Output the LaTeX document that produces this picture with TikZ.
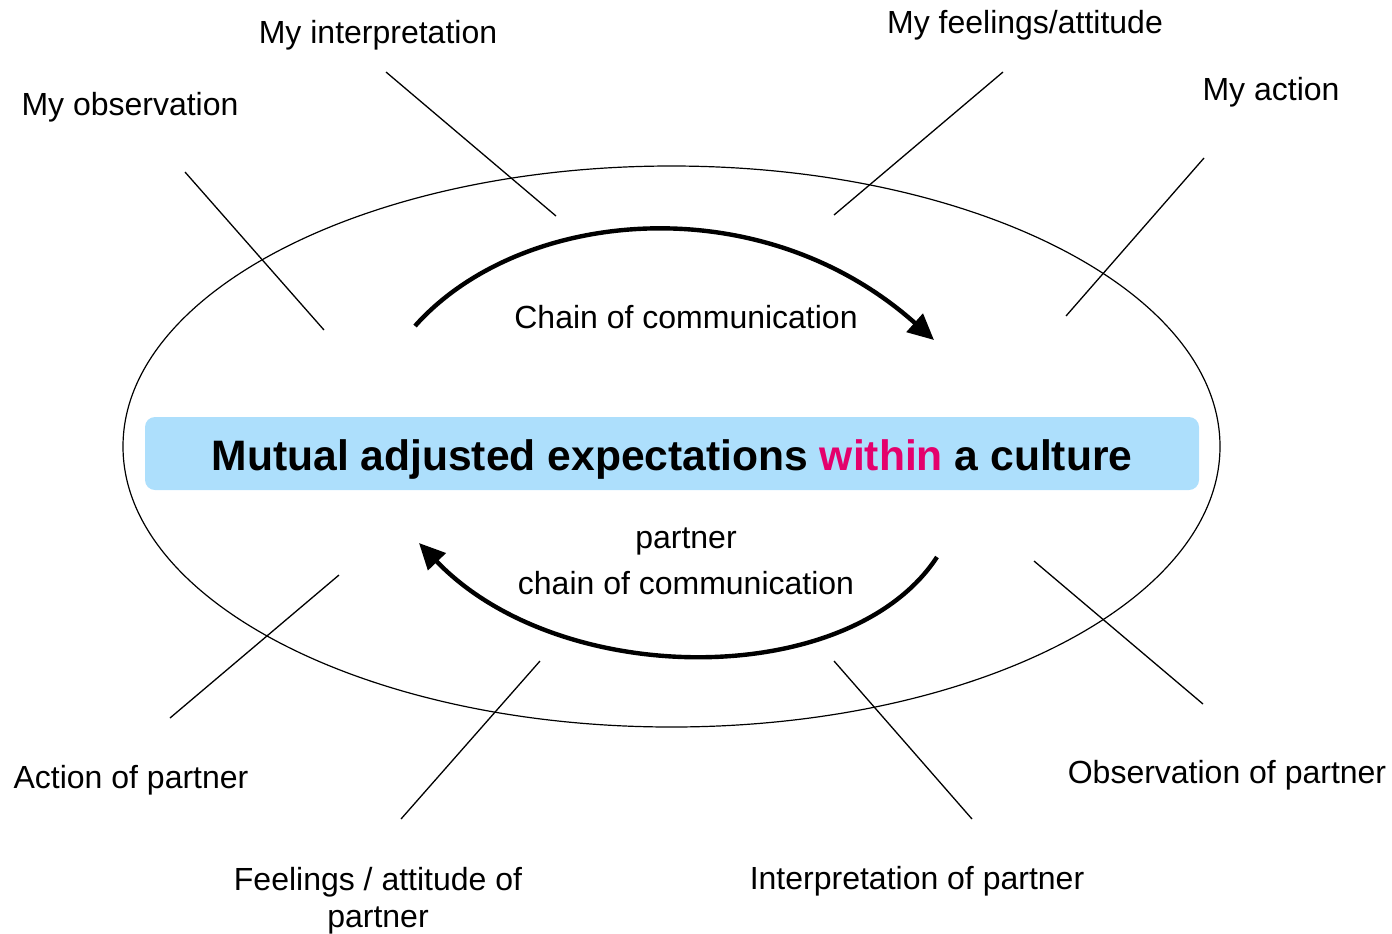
\documentclass[tikz,border=0pt]{standalone}
\usepackage{fontspec}
\setmainfont{Liberation Sans}
\usetikzlibrary{arrows.meta}

\definecolor{bandblue}{RGB}{173,223,252}
\definecolor{withinred}{RGB}{228,0,108}

\tikzset{
  lbl/.style={anchor=base, inner sep=0pt, font=\fontsize{16}{19}\selectfont},
  spoke/.style={line width=0.65pt},
  chain/.style={line width=2.2pt, -{Triangle[length=13pt,width=12pt]}}
}

\begin{document}
\begin{tikzpicture}[x=0.5pt, y=-0.5pt]
            \useasboundingbox (0,0) rectangle (1392,933);

            \draw[line width=0.6pt] (671.5,446.5) ellipse [x radius=548.5, y radius=280.5];

            \node[fill=bandblue, rounded corners=5pt, inner sep=0pt,
                  minimum width=527pt, minimum height=36.5pt,
                  text height=16.5pt, text depth=0pt,
                  font=\fontsize{21.3}{25}\selectfont\bfseries] (band) at (672,453.5)
                  { Mutual adjusted expectations \textcolor{withinred}{within} a culture };

            % labels round the ellipse
            \node[lbl] (myobs) at (130,115) { My observation };
            \node[lbl] (myint) at (378,43) { My interpretation };
            \node[lbl] (myfeel) at (1025,33) { My feelings/attitude };
            \node[lbl] (myact) at (1271,100) { My action };
            \node[lbl] (partact) at (131,788) { Action of partner };
            \node[lbl, align=center, font=\fontsize{16}{18.5}\selectfont] (partfeel) at (378,927) { Feelings / attitude of\\partner };
            \node[lbl] (partint) at (917,889) { Interpretation of partner };
            \node[lbl] (partobs) at (1227,783) { Observation of partner };

            \node[lbl] (mychain) at (686,328) { Chain of communication };
            \node[lbl, align=center, font=\fontsize{16}{23}\selectfont] (partchain) at (686,594) { partner\\chain of communication };

            % spokes
            \coordinate (obsA) at (185,172);  \coordinate (obsB) at (324,330);
            \coordinate (intA) at (386,72);   \coordinate (intB) at (556,216);
            \coordinate (feelA) at (1003,72); \coordinate (feelB) at (834,215);
            \coordinate (actA) at (1204,158); \coordinate (actB) at (1066,316);
            \coordinate (pactA) at (339,575); \coordinate (pactB) at (170,718);
            \coordinate (pfeelA) at (540,661); \coordinate (pfeelB) at (401,819);
            \coordinate (pintA) at (834,661); \coordinate (pintB) at (972,819);
            \coordinate (pobsA) at (1034,561); \coordinate (pobsB) at (1203,704);

            \draw[spoke] (obsA) -- (obsB);
            \draw[spoke] (intA) -- (intB);
            \draw[spoke] (feelA) -- (feelB);
            \draw[spoke] (actA) -- (actB);
            \draw[spoke] (pactA) -- (pactB);
            \draw[spoke] (pfeelA) -- (pfeelB);
            \draw[spoke] (pintA) -- (pintB);
            \draw[spoke] (pobsA) -- (pobsB);

            % the two chains
            \coordinate (topS) at (415,326);  \coordinate (topE) at (934,340);
            \coordinate (botS) at (937,557);  \coordinate (botE) at (419,543);
            \draw[chain] (topS) .. controls (520,208) and (760,185) .. (topE);
            \draw[chain] (botS) .. controls (850,690) and (560,690) .. (botE);
        \end{tikzpicture}
\end{document}
